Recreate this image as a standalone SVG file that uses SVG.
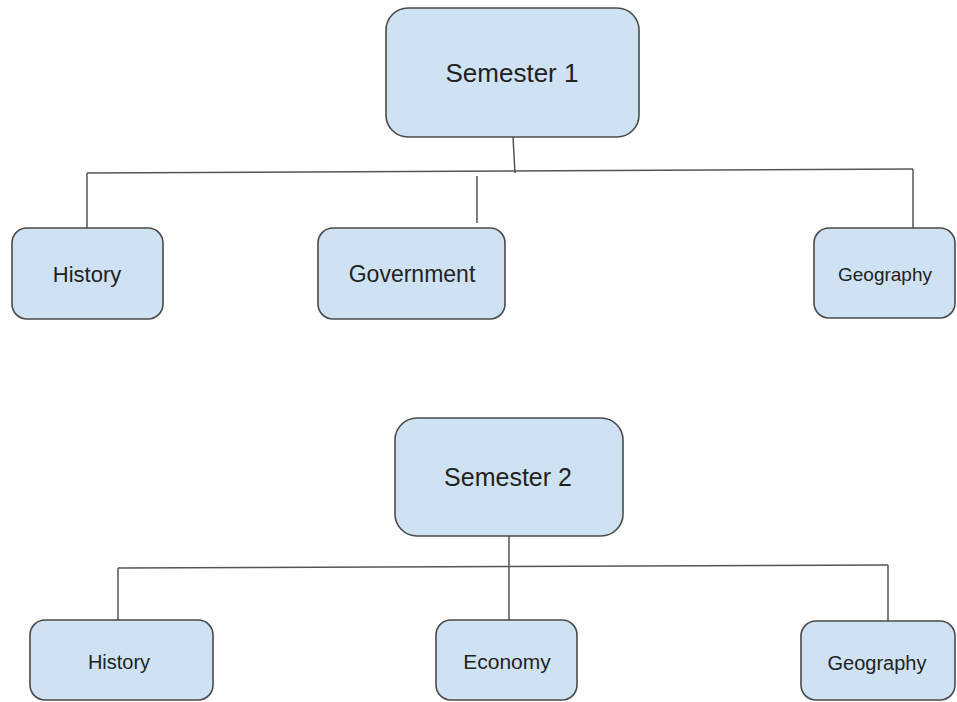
<svg xmlns="http://www.w3.org/2000/svg" width="957" height="702" viewBox="0 0 957 702">
<style>
.box{fill:#cfe2f3;stroke:#4a4a4a;stroke-width:1.6}
.lbl{font-family:"Liberation Sans",Arial,sans-serif;fill:#222;text-anchor:middle}
.ln{stroke:#555;stroke-width:1.5;fill:none}
</style>
<rect width="957" height="702" fill="#fff"/>
<g id="connectors">
<line class="ln" x1="513" y1="137" x2="515" y2="173"/>
<line class="ln" x1="87" y1="173" x2="913" y2="169"/>
<line class="ln" x1="87" y1="173" x2="87" y2="228"/>
<line class="ln" x1="477" y1="176" x2="477" y2="223"/>
<line class="ln" x1="913" y1="169" x2="913" y2="228"/>
<line class="ln" x1="509" y1="536" x2="509" y2="620"/>
<line class="ln" x1="118" y1="568" x2="888" y2="565"/>
<line class="ln" x1="118" y1="568" x2="118" y2="620"/>
<line class="ln" x1="888" y1="565" x2="888" y2="621"/>
</g>
<g id="semester1">
<rect class="box" x="386" y="8" width="253" height="129" rx="22"/>
<text class="lbl" x="512" y="82" font-size="26">Semester 1</text>
</g>
<g id="history1">
<rect class="box" x="12" y="228" width="151" height="91" rx="15"/>
<text class="lbl" x="87" y="282" font-size="22">History</text>
</g>
<g id="government">
<rect class="box" x="318" y="228" width="187" height="91" rx="15"/>
<text class="lbl" x="412" y="282" font-size="23">Government</text>
</g>
<g id="geography1">
<rect class="box" x="814" y="228" width="141" height="90" rx="15"/>
<text class="lbl" x="885" y="281" font-size="19">Geography</text>
</g>
<g id="semester2">
<rect class="box" x="395" y="418" width="228" height="118" rx="22"/>
<text class="lbl" x="508" y="486" font-size="25">Semester 2</text>
</g>
<g id="history2">
<rect class="box" x="30" y="620" width="183" height="80" rx="15"/>
<text class="lbl" x="119" y="669" font-size="20">History</text>
</g>
<g id="economy">
<rect class="box" x="436" y="620" width="141" height="80" rx="15"/>
<text class="lbl" x="507" y="669" font-size="21">Economy</text>
</g>
<g id="geography2">
<rect class="box" x="801" y="621" width="154" height="79" rx="15"/>
<text class="lbl" x="877" y="670" font-size="20">Geography</text>
</g>
</svg>
